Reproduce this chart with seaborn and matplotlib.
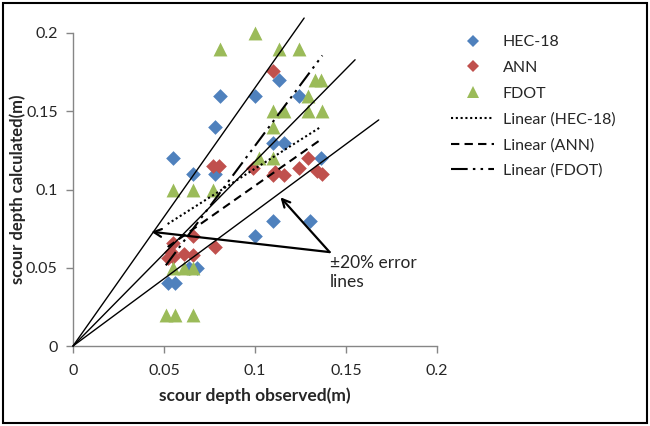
import numpy as np
import pandas as pd
import matplotlib
matplotlib.use('Agg')
import matplotlib.pyplot as plt
import seaborn as sns
from matplotlib.lines import Line2D
from matplotlib.patches import Rectangle

# observed vs calculated scour depth (m)
hec_obs = [0.055, 0.066, 0.078, 0.078, 0.081, 0.100, 0.113, 0.124, 0.110, 0.116,
           0.136, 0.100, 0.110, 0.130, 0.064, 0.068, 0.052, 0.056]
hec_calc = [0.120, 0.110, 0.110, 0.140, 0.160, 0.160, 0.170, 0.160, 0.130, 0.130,
            0.120, 0.070, 0.080, 0.080, 0.050, 0.050, 0.040, 0.040]

ann_obs = [0.110, 0.077, 0.080, 0.099, 0.129, 0.124, 0.111, 0.116, 0.110, 0.134,
           0.137, 0.078, 0.055, 0.066, 0.054, 0.061, 0.066, 0.052, 0.055]
ann_calc = [0.176, 0.115, 0.115, 0.114, 0.120, 0.114, 0.111, 0.109, 0.109, 0.112,
            0.110, 0.063, 0.066, 0.070, 0.060, 0.059, 0.058, 0.056, 0.057]

fdot_obs = [0.100, 0.081, 0.113, 0.124, 0.133, 0.136, 0.129, 0.110, 0.116, 0.129,
            0.137, 0.110, 0.102, 0.110, 0.055, 0.066, 0.077, 0.055, 0.061, 0.066,
            0.051, 0.056, 0.066]
fdot_calc = [0.200, 0.190, 0.190, 0.190, 0.170, 0.170, 0.160, 0.150, 0.150, 0.150,
             0.150, 0.140, 0.120, 0.120, 0.100, 0.100, 0.100, 0.050, 0.050, 0.050,
             0.020, 0.020, 0.020]

# hand drawn guide lines from the origin: slope and end point
guide_slopes = [1.65, 1.18, 0.86]
guide_end_x = [0.127, 0.155, 0.168]

# arrows of the "error lines" note
note_xy = (0.141, 0.060)
arrow_heads = [(0.043, 0.073), (0.114, 0.095)]

colors = {'HEC-18': '#4F81BD', 'ANN': '#C0504D', 'FDOT': '#9BBB59'}
markers = {'HEC-18': 'D', 'ANN': 'D', 'FDOT': '^'}
sizes = {'HEC-18': 56, 'ANN': 56, 'FDOT': 100}
trend_styles = {'HEC-18': (0, (1, 1.3)), 'ANN': (0, (4, 2.5)),
                'FDOT': (0, (8, 2.5, 1.2, 2.5, 1.2, 2.5))}

df = pd.concat([
    pd.DataFrame({'obs': hec_obs, 'calc': hec_calc, 'method': 'HEC-18'}),
    pd.DataFrame({'obs': ann_obs, 'calc': ann_calc, 'method': 'ANN'}),
    pd.DataFrame({'obs': fdot_obs, 'calc': fdot_calc, 'method': 'FDOT'}),
])

sns.set_style('white')
plt.rcParams['font.family'] = ['Lato', 'DejaVu Sans']

fig = plt.figure(figsize=(6.5, 4.26), dpi=100)
ax = fig.add_axes([73 / 650, 80 / 426, 364 / 650, 313 / 426])

for m in ['HEC-18', 'ANN', 'FDOT']:
    sub = df[df['method'] == m]
    sns.scatterplot(data=sub, x='obs', y='calc', color=colors[m], marker=markers[m],
                    s=sizes[m], linewidth=0, ax=ax, zorder=3, clip_on=False)

for m in ['HEC-18', 'ANN', 'FDOT']:
    sub = df[df['method'] == m]
    sns.regplot(data=sub, x='obs', y='calc', scatter=False, ci=None, truncate=True,
                color='black', ax=ax,
                line_kws=dict(lw=1.5, ls=trend_styles[m], zorder=4))

for s, ex in zip(guide_slopes, guide_end_x):
    ax.plot([0, ex], [0, s * ex], color='black', lw=1, clip_on=False, zorder=5)

for hx, hy in arrow_heads:
    ax.annotate('', xy=(hx, hy), xytext=note_xy,
                arrowprops=dict(arrowstyle='->', lw=1.6, color='black',
                                mutation_scale=14, shrinkA=0, shrinkB=0), zorder=6)
ax.text(note_xy[0], note_xy[1] - 0.002, '±20% error\nlines', fontsize=12.5,
        va='top', ha='left', linespacing=1.25)

ax.set_xlim(0, 0.2)
ax.set_ylim(0, 0.2)
ticks = [0, 0.05, 0.1, 0.15, 0.2]
tick_labels = ['0', '0.05', '0.1', '0.15', '0.2']
ax.set_xticks(ticks, tick_labels)
ax.set_yticks(ticks, tick_labels)
ax.tick_params(axis='both', direction='out', length=5, width=1, color='#868686',
               labelsize=11.5, bottom=True, left=True)
ax.tick_params(axis='x', pad=8)
ax.tick_params(axis='y', pad=6)
for side in ['top', 'right']:
    ax.spines[side].set_visible(False)
for side in ['left', 'bottom']:
    ax.spines[side].set_color('#868686')
    ax.spines[side].set_linewidth(1)

ax.set_xlabel('scour depth observed(m)', fontsize=12.5, fontweight='bold', labelpad=7)
ax.set_ylabel('scour depth calculated(m)', fontsize=12, fontweight='bold')
ax.yaxis.set_label_coords(-0.128, 0.5)

handles = [Line2D([], [], ls='none', marker=markers[m], color=colors[m],
                  markersize=6.5 if m != 'FDOT' else 9, markeredgewidth=0)
           for m in ['HEC-18', 'ANN', 'FDOT']]
handles += [Line2D([], [], color='black', lw=1.5, ls=trend_styles[m])
            for m in ['HEC-18', 'ANN', 'FDOT']]
labels = ['HEC-18', 'ANN', 'FDOT', 'Linear (HEC-18)', 'Linear (ANN)', 'Linear (FDOT)']
fig.legend(handles, labels, loc='upper left', bbox_to_anchor=(451 / 650, 1 - 35 / 426),
           frameon=False, fontsize=11.5, handlelength=2.7, handletextpad=0.55,
           labelspacing=0.72, borderpad=0, borderaxespad=0)

fig.patches.append(Rectangle((0.004, 0.006), 0.992, 0.988, transform=fig.transFigure,
                             fill=False, edgecolor='black', lw=1.5))

fig.savefig('out.png', dpi=100)
